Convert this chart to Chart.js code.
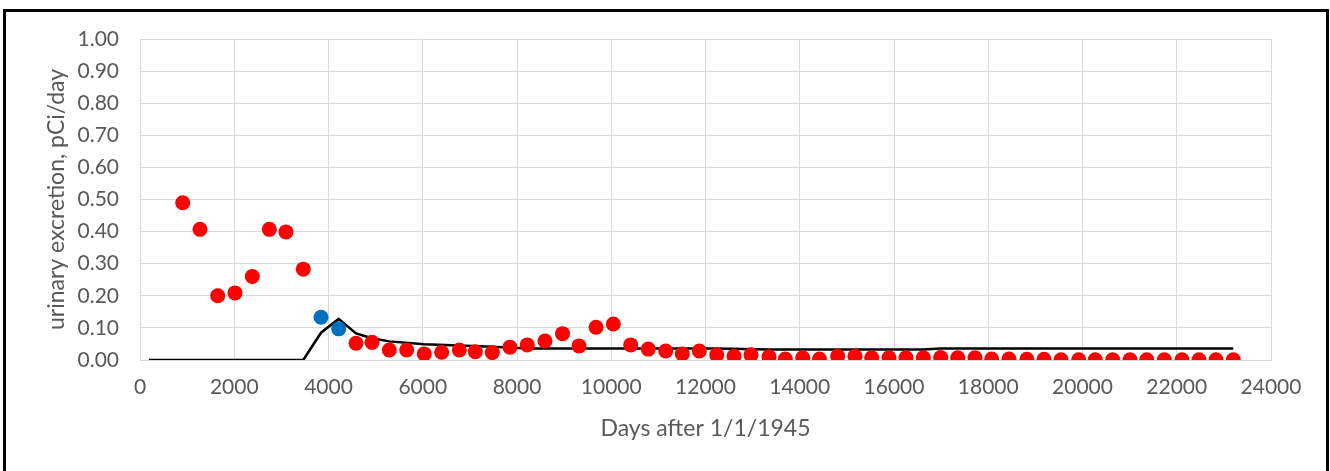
<!DOCTYPE html>
<html>
<head>
<meta charset="utf-8">
<script src="https://cdn.jsdelivr.net/npm/chart.js@4/dist/chart.umd.min.js"></script>
<style>
  html, body { margin: 0; padding: 0; background: #fff; }
  #wrap { position: relative; width: 1330px; height: 471px; overflow: hidden; }
  #frame {
    position: absolute; left: 3px; top: 9px; width: 1326px; height: 500px;
    box-sizing: border-box; border: 3px solid #000; pointer-events: none;
  }
  #excretionChart { position: absolute; left: 0; top: 0; }
</style>
</head>
<body>
<div id="wrap">
  <div id="frame"></div>
  <canvas id="excretionChart" width="1330" height="471"></canvas>
</div>
<script>
// Bioassay results (days after 1/1/1945, pCi/day)
const sampleDays = [
  906, 1273, 1649, 2016, 2383, 2744, 3098, 3465,
  4584, 4923, 5290, 5659, 6033, 6402, 6776, 7115, 7476, 7851,
  8218, 8594, 8966, 9316, 9677, 10044, 10413, 10786, 11156, 11508,
  11869, 12238, 12605, 12966, 13348, 13694, 14063, 14419, 14805, 15172,
  15527, 15894, 16255, 16622, 16991, 17352, 17719, 18073, 18440, 18820,
  19183, 19544, 19919, 20271, 20641, 21008, 21363, 21736, 22111, 22472,
  22833, 23200
];
const sampleValues = [
  0.490, 0.407, 0.200, 0.209, 0.260, 0.407, 0.399, 0.283,
  0.052, 0.055, 0.031, 0.031, 0.019, 0.024, 0.031, 0.026, 0.023, 0.040,
  0.047, 0.059, 0.082, 0.044, 0.102, 0.112, 0.047, 0.034, 0.028, 0.019,
  0.028, 0.016, 0.012, 0.016, 0.010, 0.003, 0.007, 0.003, 0.012, 0.012,
  0.007, 0.007, 0.007, 0.007, 0.008, 0.007, 0.007, 0.003, 0.003, 0.002,
  0.002, 0.001, 0.001, 0.001, 0.001, 0.001, 0.001, 0.001, 0.001, 0.001,
  0.001, 0.001
];

// the two highlighted samples
const highlightDays = [3841, 4216];
const highlightValues = [0.133, 0.097];

// model curve
const modelDays = [190, 3465, 3841, 4216, 4584, 4923, 5290, 6033, 6776, 7476, 8218, 12238, 13348, 16622, 16991, 23200];
const modelValues = [0, 0, 0.085, 0.128, 0.083, 0.068, 0.058, 0.049, 0.045, 0.041, 0.036, 0.036, 0.033, 0.033, 0.036, 0.036];

const yTicks = [0, 0.1, 0.2, 0.3, 0.4, 0.5, 0.6, 0.7, 0.8, 0.9, 1.0];
const xTicks = [0, 2000, 4000, 6000, 8000, 10000, 12000, 14000, 16000, 18000, 20000, 22000, 24000];

const toPoints = (xs, ys) => xs.map((x, i) => ({ x: x, y: ys[i] }));

const fontFamily = 'Lato, "Open Sans", sans-serif';
const tickFont = { family: fontFamily, size: 21 };
const titleFont = { family: fontFamily, size: 23 };
const gray = '#595959';
const gridColor = '#d9d9d9';

const ctx = document.getElementById('excretionChart').getContext('2d');
new Chart(ctx, {
  type: 'scatter',
  data: {
    datasets: [
      {
        label: 'urine',
        data: toPoints(sampleDays, sampleValues),
        backgroundColor: '#ff0000',
        borderWidth: 0,
        pointRadius: 7.5,
        pointHoverRadius: 7.5
      },
      {
        label: 'highlighted',
        data: toPoints(highlightDays, highlightValues),
        backgroundColor: '#0070c0',
        borderWidth: 0,
        pointRadius: 7.5,
        pointHoverRadius: 7.5
      },
      {
        label: 'model',
        data: toPoints(modelDays, modelValues),
        showLine: true,
        borderColor: '#000',
        borderWidth: 2.5,
        pointRadius: 0,
        tension: 0
      }
    ]
  },
  options: {
    responsive: false,
    animation: false,
    layout: { padding: { top: 39, right: 59, bottom: 0, left: 0 } },
    plugins: { legend: { display: false }, tooltip: { enabled: false } },
    scales: {
      x: {
        type: 'linear',
        min: 0,
        max: 24000,
        afterBuildTicks: (scale) => { scale.ticks = xTicks.map(v => ({ value: v })); },
        afterFit: (scale) => { scale.height = 111; },
        ticks: {
          color: gray,
          font: tickFont,
          padding: 15,
          maxRotation: 0,
          callback: (v) => String(v)
        },
        grid: { color: gridColor, lineWidth: 1, drawTicks: false },
        border: { color: gridColor, width: 1 },
        title: {
          display: true,
          text: 'Days after 1/1/1945',
          color: gray,
          font: titleFont,
          padding: { top: 0, bottom: 29 }
        }
      },
      y: {
        min: 0,
        max: 1,
        afterBuildTicks: (scale) => { scale.ticks = yTicks.map(v => ({ value: v })); },
        afterFit: (scale) => { scale.width = 140; },
        ticks: {
          color: gray,
          font: tickFont,
          padding: 21,
          callback: (v) => Number(v).toFixed(2)
        },
        grid: { color: gridColor, lineWidth: 1, drawTicks: false },
        border: { color: gridColor, width: 1 },
        title: {
          display: true,
          text: 'urinary excretion, pCi/day',
          color: gray,
          font: titleFont,
          padding: { top: 43, bottom: 0 }
        }
      }
    }
  }
});
</script>
</body>
</html>
